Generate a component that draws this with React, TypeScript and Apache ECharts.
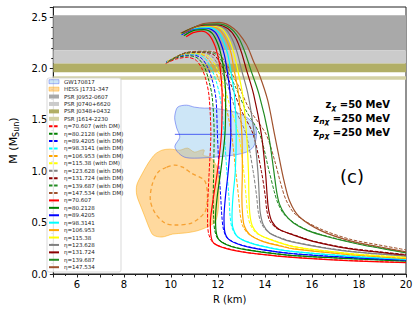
import React, { useEffect, useRef } from 'react';
import * as echarts from 'echarts';

const FONT = 'DejaVu Sans';
const xMin = 5;
const xMax = 20;
const yMin = 0;
const yMax = 2.6;

const etaLabels = ['70.607', '80.2128', '89.4205', '98.3141', '106.953', '115.38', '123.628', '131.724', '139.687', '147.534'];
const lineColors = ['#ff0000', '#008000', '#0000ff', '#00ffff', '#ffa500', '#ffff00', '#808080', '#8b0000', '#228b22', '#a0522d'];

// Mass-radius curves without DM: [R (km), M (Msun)]
const noDM70 = [[10.65,2.31],[10.95,2.35],[11.3,2.365],[11.62,2.33],[11.88,2.22],[12.02,2.1],[12.1,2.0],[12.18,1.75],[12.15,1.36],[11.98,1.0],[11.78,0.7],[11.68,0.5],[11.7,0.38],[11.83,0.3],[12.4,0.245],[13.3,0.205],[14.5,0.175],[15.6,0.155],[17.5,0.13],[20,0.11]];
const noDM80 = [[10.55,2.32],[10.95,2.37],[11.4,2.38],[11.75,2.345],[12.0,2.24],[12.15,2.12],[12.24,2.0],[12.33,1.75],[12.3,1.36],[12.12,1.0],[11.97,0.75],[11.9,0.55],[11.92,0.42],[12.06,0.33],[12.6,0.265],[13.5,0.225],[14.5,0.195],[15.2,0.178],[17.5,0.15],[20,0.126]];
const noDM89 = [[10.45,2.33],[10.95,2.385],[11.5,2.395],[11.88,2.355],[12.12,2.25],[12.28,2.13],[12.38,2.0],[12.52,1.75],[12.55,1.36],[12.44,1.0],[12.32,0.75],[12.26,0.55],[12.28,0.43],[12.45,0.34],[13.0,0.28],[14.0,0.232],[15.2,0.197],[17.5,0.162],[20,0.136]];
const noDM98 = [[10.4,2.335],[10.95,2.39],[11.6,2.4],[12.0,2.36],[12.25,2.26],[12.42,2.14],[12.53,2.0],[12.7,1.75],[12.78,1.36],[12.74,1.0],[12.64,0.75],[12.6,0.56],[12.64,0.45],[12.85,0.36],[13.4,0.3],[14.3,0.25],[15.2,0.218],[17.5,0.175],[20,0.143]];
const noDM107 = [[10.4,2.34],[11.0,2.4],[11.7,2.41],[12.1,2.37],[12.38,2.27],[12.56,2.15],[12.68,2.0],[12.88,1.75],[13.02,1.36],[13.04,1.0],[13.02,0.75],[13.05,0.58],[13.12,0.47],[13.35,0.385],[13.9,0.318],[14.7,0.27],[15.2,0.245],[17.5,0.19],[20,0.15]];
const noDM115 = [[10.4,2.34],[11.05,2.405],[11.8,2.415],[12.2,2.38],[12.48,2.28],[12.68,2.15],[12.83,2.0],[13.05,1.75],[13.22,1.36],[13.3,1.0],[13.32,0.75],[13.36,0.58],[13.46,0.47],[13.72,0.39],[14.3,0.33],[15.2,0.267],[16.5,0.225],[18,0.19],[20,0.162]];
const noDM124 = [[10.4,2.345],[11.1,2.41],[11.9,2.42],[12.32,2.385],[12.6,2.29],[12.82,2.155],[12.99,2.0],[13.28,1.75],[13.55,1.36],[13.7,1.0],[13.76,0.75],[13.8,0.6],[13.93,0.48],[14.2,0.4],[14.7,0.345],[15.2,0.31],[16.5,0.255],[18,0.21],[20,0.175]];
const noDM132 = [[10.45,2.345],[11.15,2.415],[11.95,2.427],[12.42,2.39],[12.75,2.3],[13.0,2.16],[13.2,2.0],[13.52,1.75],[13.85,1.36],[14.02,1.0],[14.1,0.75],[14.16,0.62],[14.3,0.51],[14.6,0.435],[15.2,0.38],[16.0,0.32],[17.5,0.25],[20,0.185]];
const noDM140 = [[10.5,2.345],[11.25,2.425],[12.0,2.435],[12.52,2.395],[12.88,2.3],[13.15,2.16],[13.38,2.0],[13.75,1.75],[14.15,1.36],[14.38,1.0],[14.5,0.8],[14.62,0.68],[14.85,0.58],[15.2,0.5],[15.8,0.425],[16.7,0.36],[18,0.29],[20,0.205]];
const noDM148 = [[10.55,2.345],[11.35,2.435],[12.05,2.45],[12.67,2.39],[13.2,2.24],[13.5,2.08],[13.78,1.93],[14.12,1.69],[14.4,1.37],[14.6,1.14],[14.8,0.92],[15.05,0.71],[15.45,0.56],[16.4,0.42],[17.67,0.32],[18.8,0.268],[20,0.215]];

// Mass-radius curves with DM
const withDM70 = [[9.78,2.05],[10.25,2.095],[10.7,2.11],[11.05,2.085],[11.3,2.01],[11.48,1.9],[11.62,1.74],[11.7,1.36],[11.63,1.0],[11.57,0.7],[11.56,0.5],[11.62,0.38],[11.82,0.3],[12.4,0.248],[13.3,0.207],[14.5,0.177],[15.6,0.157],[17.5,0.132],[20,0.112]];
const withDM80 = [[9.8,2.06],[10.3,2.11],[10.8,2.125],[11.15,2.1],[11.42,2.02],[11.62,1.88],[11.76,1.72],[11.84,1.36],[11.82,1.0],[11.8,0.72],[11.82,0.55],[11.87,0.42],[12.03,0.335],[12.6,0.268],[13.5,0.228],[14.5,0.198],[15.2,0.18],[17.5,0.152],[20,0.128]];
const withDM89 = [[9.8,2.065],[10.35,2.12],[10.9,2.135],[11.28,2.105],[11.55,2.02],[11.78,1.87],[11.92,1.7],[11.98,1.36],[12.05,1.0],[12.12,0.75],[12.17,0.56],[12.24,0.43],[12.42,0.345],[13.0,0.283],[14.0,0.234],[15.2,0.199],[17.5,0.164],[20,0.138]];
const withDM98 = [[9.82,2.065],[10.4,2.13],[11.0,2.14],[11.4,2.11],[11.68,2.02],[11.95,1.86],[12.12,1.68],[12.27,1.36],[12.38,1.0],[12.47,0.75],[12.52,0.56],[12.6,0.45],[12.82,0.365],[13.4,0.303],[14.3,0.252],[15.2,0.22],[17.5,0.177],[20,0.145]];
const withDM107 = [[9.85,2.07],[10.45,2.135],[11.1,2.145],[11.5,2.115],[11.8,2.02],[12.1,1.85],[12.33,1.65],[12.58,1.36],[12.76,1.0],[12.88,0.75],[12.95,0.58],[13.05,0.47],[13.3,0.39],[13.9,0.32],[14.7,0.273],[15.2,0.248],[17.5,0.193],[20,0.153]];
const withDM115 = [[9.85,2.07],[10.5,2.14],[11.2,2.15],[11.6,2.12],[11.92,2.02],[12.25,1.84],[12.52,1.63],[12.88,1.36],[13.1,1.0],[13.2,0.75],[13.27,0.58],[13.38,0.48],[13.65,0.395],[14.3,0.333],[15.2,0.27],[16.5,0.228],[18,0.193],[20,0.165]];
const withDM124 = [[9.88,2.07],[10.55,2.145],[11.3,2.155],[11.72,2.125],[12.05,2.02],[12.42,1.83],[12.75,1.6],[13.2,1.36],[13.5,1.0],[13.65,0.75],[13.72,0.6],[13.85,0.49],[14.15,0.405],[14.7,0.35],[15.2,0.314],[16.5,0.258],[18,0.213],[20,0.178]];
const withDM132 = [[9.9,2.07],[10.6,2.15],[11.4,2.16],[11.85,2.13],[12.18,2.02],[12.6,1.82],[12.98,1.6],[13.5,1.36],[13.85,1.0],[14.02,0.75],[14.08,0.62],[14.22,0.51],[14.55,0.437],[15.2,0.384],[16.0,0.324],[17.5,0.254],[20,0.19]];
const withDM140 = [[9.92,2.07],[10.65,2.155],[11.5,2.165],[11.95,2.135],[12.3,2.02],[12.75,1.82],[13.18,1.6],[13.78,1.36],[14.18,1.0],[14.4,0.8],[14.55,0.69],[14.8,0.585],[15.2,0.505],[15.8,0.428],[16.7,0.364],[18,0.294],[20,0.21]];
const withDM148 = [[9.95,2.07],[10.7,2.16],[11.6,2.17],[12.05,2.14],[12.42,2.02],[12.9,1.82],[13.35,1.6],[14.05,1.36],[14.42,1.1],[14.65,0.9],[14.9,0.72],[15.3,0.58],[16.3,0.445],[17.6,0.34],[18.8,0.285],[20,0.235]];

const noDMCurves = [noDM70, noDM80, noDM89, noDM98, noDM107, noDM115, noDM124, noDM132, noDM140, noDM148];
const withDMCurves = [withDM70, withDM80, withDM89, withDM98, withDM107, withDM115, withDM124, withDM132, withDM140, withDM148];

// Pulsar mass constraints (horizontal bands)
const bandNames = ['PSR J0952-0607', 'PSR J0740+6620', 'PSR J0348+0432', 'PSR J1614-2230'];
const bandLow = [2.18, 2.05, 1.965, 1.892];
const bandHigh = [2.52, 2.18, 2.05, 1.926];
const bandColors = ['#a9a9a9', '#cbcbcb', '#b1ae66', '#d3d1a5'];

// GW170817 region
const gwR = [10.17,10.29,10.67,11.0,11.42,11.83,12.33,12.75,13.21,13.5,13.63,13.63,13.5,13.21,12.67,11.83,11.0,10.58,10.29,10.17,10.38,10.25,10.17];
const gwM = [1.547,1.625,1.644,1.625,1.615,1.615,1.595,1.576,1.527,1.469,1.40,1.323,1.235,1.187,1.158,1.138,1.128,1.138,1.187,1.245,1.333,1.42,1.498];
const gwLineR = [10.17, 13.63];
const gwLineM = 1.36;

// HESS J1731-347 region (outer) and inner dashed contour
const hessR = [9.625,9.958,10.375,10.708,11.0,11.29,11.42,11.375,11.67,11.875,12.0,12.04,12.04,12.0,11.875,11.54,11.08,10.58,10.08,9.625,9.25,9.083,8.917,8.75,8.55,8.55,8.75,8.96,9.125,9.33];
const hessM = [1.206,1.216,1.206,1.226,1.187,1.206,1.206,1.158,1.138,1.08,1.012,0.866,0.72,0.603,0.506,0.457,0.418,0.399,0.389,0.36,0.379,0.447,0.545,0.642,0.768,0.866,0.963,1.05,1.109,1.167];
const hessInnerR = [9.83,10.17,10.5,10.875,11.42,11.54,11.54,11.42,10.875,10.17,9.75,9.33,9.125,9.21,9.46];
const hessInnerM = [1.041,1.06,1.041,0.982,0.914,0.817,0.691,0.593,0.496,0.477,0.496,0.593,0.72,0.875,0.992];

const GW_FILL = 'rgba(135,196,235,0.42)';
const GW_EDGE = 'rgba(60,80,240,0.5)';
const HESS_FILL = 'rgba(255,170,40,0.45)';
const HESS_EDGE = 'rgba(255,165,0,0.5)';

function buildOption() {
  const bandSeries = bandNames.map((name, i) => ({
    type: 'custom',
    name,
    z: 1,
    silent: true,
    clip: true,
    data: [[xMin, bandLow[i]]],
    renderItem: (_p: any, api: any) => {
      const a = api.coord([xMin, bandHigh[i]]);
      const b = api.coord([xMax, bandLow[i]]);
      return {
        type: 'rect',
        shape: { x: a[0], y: a[1], width: b[0] - a[0], height: b[1] - a[1] },
        style: { fill: bandColors[i] },
      };
    },
  }));

  const gwSeries = {
    type: 'custom',
    name: 'GW170817',
    z: 1,
    silent: true,
    clip: true,
    data: [[gwR[0], gwM[0]]],
    renderItem: (_p: any, api: any) => {
      const pts = gwR.map((r, i) => api.coord([r, gwM[i]]));
      const a = api.coord([gwLineR[0], gwLineM]);
      const b = api.coord([gwLineR[1], gwLineM]);
      return {
        type: 'group',
        children: [
          { type: 'polygon', shape: { points: pts, smooth: 0.3 }, style: { fill: GW_FILL, stroke: GW_EDGE, lineWidth: 1 } },
          { type: 'line', shape: { x1: a[0], y1: a[1], x2: b[0], y2: b[1] }, style: { stroke: 'rgba(30,50,240,0.75)', lineWidth: 1 } },
        ],
      };
    },
  };

  const hessSeries = {
    type: 'custom',
    name: 'HESS J1731-347',
    z: 1,
    silent: true,
    clip: true,
    data: [[hessR[0], hessM[0]]],
    renderItem: (_p: any, api: any) => {
      const pts = hessR.map((r, i) => api.coord([r, hessM[i]]));
      const inner = hessInnerR.map((r, i) => api.coord([r, hessInnerM[i]]));
      return {
        type: 'group',
        children: [
          { type: 'polygon', shape: { points: pts, smooth: 0.3 }, style: { fill: HESS_FILL, stroke: HESS_EDGE, lineWidth: 1 } },
          { type: 'polygon', shape: { points: inner, smooth: 0.3 }, style: { fill: 'none', stroke: 'rgba(245,150,30,0.85)', lineWidth: 1.3, lineDash: [4, 3] } },
        ],
      };
    },
  };

  const dmSeries = withDMCurves.map((pts, i) => ({
    type: 'line',
    name: `η=${etaLabels[i]} (with DM)`,
    data: pts,
    symbol: 'none',
    showSymbol: false,
    smooth: 0.3,
    clip: true,
    z: 2,
    silent: true,
    lineStyle: { color: lineColors[i], width: 1, type: [3.5, 1.6] },
    itemStyle: { color: lineColors[i] },
  }));

  const solidSeries = noDMCurves.map((pts, i) => ({
    type: 'line',
    name: `η=${etaLabels[i]}`,
    data: pts,
    symbol: 'none',
    showSymbol: false,
    smooth: 0.3,
    clip: true,
    z: 2,
    silent: true,
    lineStyle: { color: lineColors[i], width: 1.2, type: 'solid' },
    itemStyle: { color: lineColors[i] },
  }));

  const hiddenSymbol = { color: 'rgba(0,0,0,0)', borderWidth: 0, opacity: 0 };
  const legendData: any[] = [
    { name: 'GW170817', icon: 'rect', itemStyle: { color: GW_FILL, borderColor: GW_EDGE, borderWidth: 0.8 } },
    { name: 'HESS J1731-347', icon: 'rect', itemStyle: { color: HESS_FILL, borderColor: HESS_EDGE, borderWidth: 0.8 } },
    ...bandNames.map((n, i) => ({ name: n, icon: 'rect', itemStyle: { color: bandColors[i] } })),
    ...dmSeries.map((s) => ({ name: s.name, itemStyle: hiddenSymbol })),
    ...solidSeries.map((s) => ({ name: s.name, itemStyle: hiddenSymbol })),
  ];

  const subRich = {
    b: { fontSize: 10, fontWeight: 'bold', fontFamily: FONT, color: '#000', lineHeight: 12 },
    s: { fontSize: 7.5, fontWeight: 'bold', fontStyle: 'italic', fontFamily: FONT, color: '#000', lineHeight: 8, padding: [6, 0, 0, 0] },
  };

  return {
    animation: false,
    backgroundColor: '#ffffff',
    grid: { left: 46, top: 7, width: 360, height: 267, show: true, borderColor: '#222', borderWidth: 1, backgroundColor: 'transparent' },
    xAxis: {
      type: 'value',
      min: xMin,
      max: xMax,
      interval: 1,
      name: 'R (km)',
      nameLocation: 'middle',
      nameGap: 20,
      nameTextStyle: { fontSize: 10, fontFamily: FONT, color: '#000' },
      axisLine: { lineStyle: { color: '#222', width: 1 } },
      axisTick: { length: 3.5, lineStyle: { color: '#222' } },
      minorTick: { show: true, splitNumber: 2, length: 2, lineStyle: { color: '#222' } },
      splitLine: { show: false },
      axisLabel: {
        fontSize: 10,
        fontFamily: FONT,
        color: '#000',
        margin: 5,
        formatter: (v: number) => {
          const r = Math.round(v);
          return Math.abs(v - r) < 1e-6 && r % 2 === 0 ? String(r) : '';
        },
      },
    },
    yAxis: {
      type: 'value',
      min: yMin,
      max: yMax,
      interval: 0.5,
      name: 'M (M{s|Sun})',
      nameLocation: 'middle',
      nameGap: 28,
      nameTextStyle: {
        fontSize: 11,
        fontFamily: FONT,
        color: '#000',
        rich: { s: { fontSize: 8, fontFamily: FONT, color: '#000', padding: [6, 0, 0, 0] } },
      },
      axisLine: { show: true, lineStyle: { color: '#222', width: 1 } },
      axisTick: { show: true, length: 3.5, lineStyle: { color: '#222' } },
      minorTick: { show: true, splitNumber: 5, length: 2, lineStyle: { color: '#222' } },
      splitLine: { show: false },
      axisLabel: {
        fontSize: 10,
        fontFamily: FONT,
        color: '#000',
        margin: 6,
        showMaxLabel: false,
        formatter: (v: number) => v.toFixed(1),
      },
    },
    legend: {
      orient: 'vertical',
      left: 48,
      top: 78.7,
      padding: 0,
      itemWidth: 10,
      itemHeight: 4,
      itemGap: 1.42,
      selectedMode: false,
      z: 5,
      textStyle: { fontSize: 5.5, lineHeight: 6, fontFamily: FONT, color: '#222' },
      data: legendData,
    },
    graphic: [
      { type: 'rect', z: 3, shape: { x: 47, y: 78, width: 74, height: 194, r: 2 }, style: { fill: 'rgba(255,255,255,0.88)', stroke: '#cfcfcf', lineWidth: 0.8 } },
      { type: 'text', z: 6, x: 390, y: 104, style: { text: '{b|z}{s|χ}{b| =50 MeV}', rich: subRich, align: 'right', verticalAlign: 'middle' } },
      { type: 'text', z: 6, x: 390, y: 118, style: { text: '{b|z}{s|nχ}{b| =250 MeV}', rich: subRich, align: 'right', verticalAlign: 'middle' } },
      { type: 'text', z: 6, x: 390, y: 132, style: { text: '{b|z}{s|pχ}{b| =250 MeV}', rich: subRich, align: 'right', verticalAlign: 'middle' } },
      { type: 'text', z: 6, x: 352, y: 176, style: { text: '(c)', fontSize: 18, fontFamily: FONT, fill: '#000', align: 'center', verticalAlign: 'middle' } },
    ],
    series: [...bandSeries, hessSeries, gwSeries, ...dmSeries, ...solidSeries],
  };
}

export default function App() {
  const ref = useRef<HTMLDivElement>(null);
  useEffect(() => {
    if (!ref.current) return;
    const chart = echarts.init(ref.current, undefined, { renderer: 'svg' });
    chart.setOption(buildOption() as any);
    return () => chart.dispose();
  }, []);
  return <div ref={ref} style={{ position: 'fixed', left: 0, top: 0, width: 419, height: 314 }} />;
}
